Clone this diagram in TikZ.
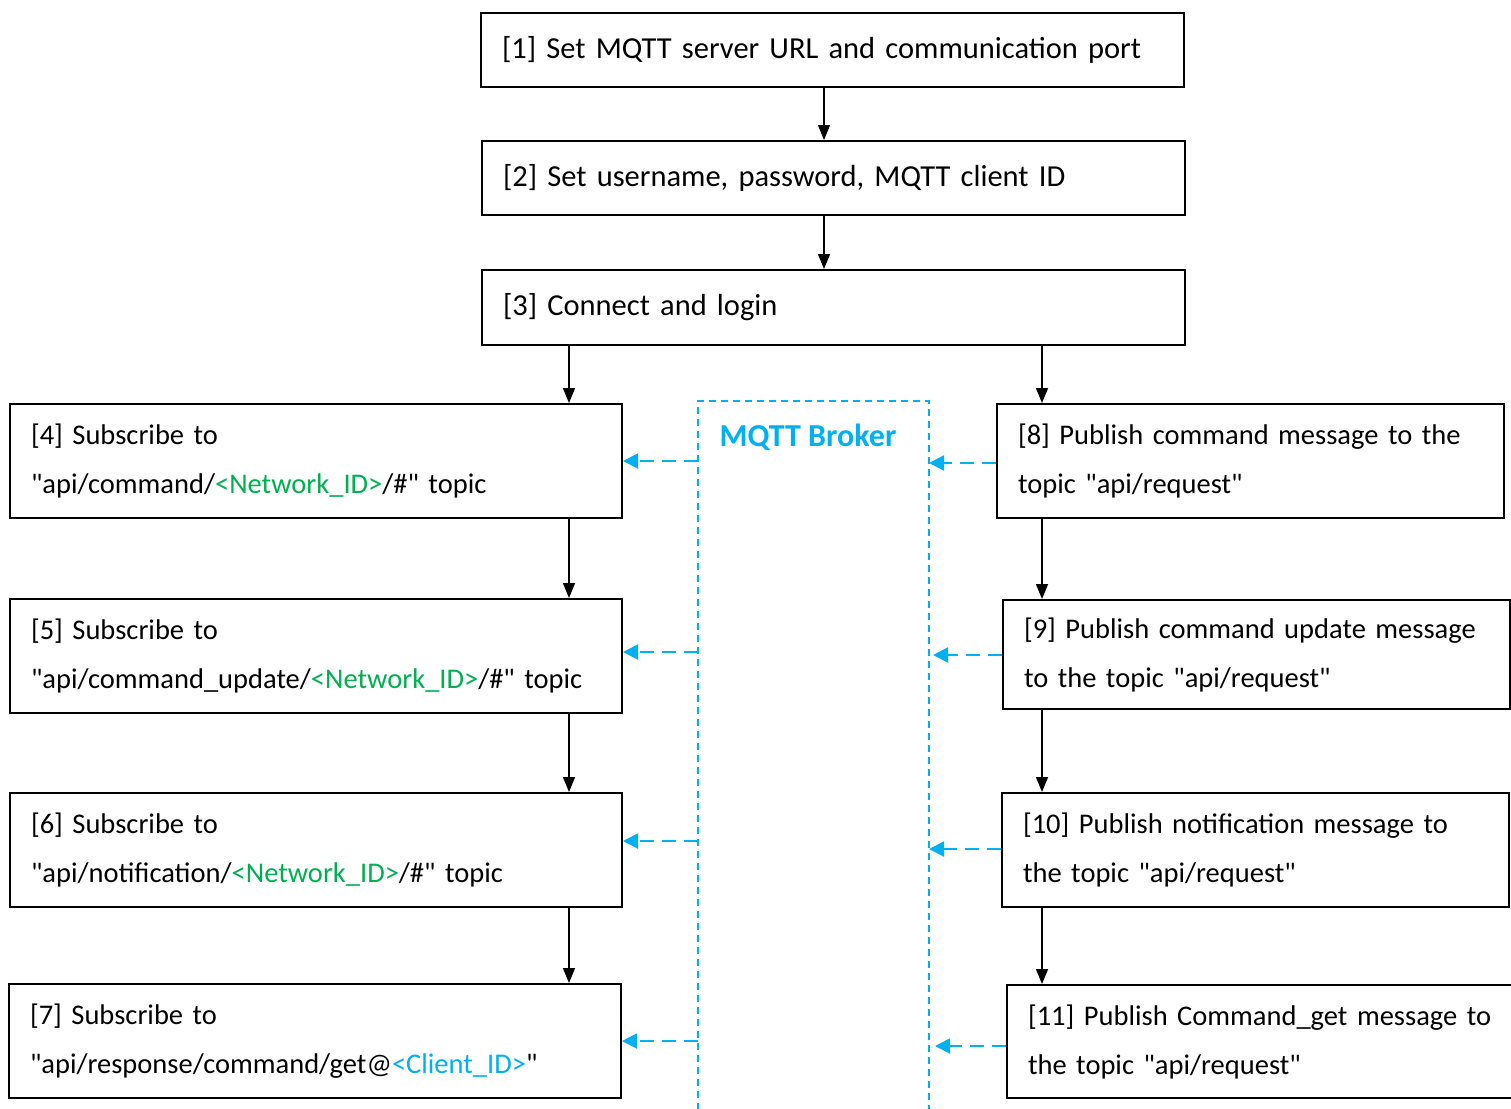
\documentclass[tikz,border=0pt]{standalone}
\usepackage{fontspec}
\setmainfont{Carlito}[Ligatures=TeXOff]
\usetikzlibrary{arrows.meta}
\definecolor{brokercyan}{HTML}{00B0F0}
\definecolor{idgreen}{HTML}{00B050}
\begin{document}
\begin{tikzpicture}[x=1bp,y=-1bp,
  box/.style={draw=black, line width=2bp, rectangle, align=left, inner ysep=0bp,
    font=\fontsize{28.5bp}{49bp}\selectfont, anchor=north west},
  topbox/.style={box, font=\fontsize{30.5bp}{49bp}\selectfont},
  arr/.style={draw=black, line width=1.5bp, -{Triangle[length=15bp,width=12bp]}},
  carr/.style={draw=brokercyan, line width=2bp, dash pattern=on 14bp off 8bp,
    -{Triangle[length=15bp,width=15bp]}},
  brokerline/.style={draw=brokercyan, line width=1.6bp, dash pattern=on 7bp off 5bp}]
\path[use as bounding box] (0,0) rectangle (1511,1108);
\coordinate (xT) at (824,0);
\coordinate (xL) at (569,0);
\coordinate (xR) at (1042,0);
\coordinate (bL) at (698,0);
\coordinate (bR) at (929,0);
% top boxes
\node[topbox, minimum width=703bp, minimum height=74bp, text width=661bp, inner xsep=21bp] (b1) at (480,12)
  {[1] Set MQTT server URL and communication port};
\node[topbox, minimum width=703bp, minimum height=74bp, text width=661bp, inner xsep=21bp] (b2) at (481,140)
  {[2] Set username, password, MQTT client ID};
\node[topbox, minimum width=703bp, minimum height=75bp, text width=661bp, inner xsep=21bp] (b3) at (481,269)
  {[3] Connect and login};
% left column
\node[box, minimum width=612bp, minimum height=114bp, text width=570bp, inner xsep=21bp] (b4) at (9,403)
  {[4] Subscribe to\\"api/command/\textcolor{idgreen}{<Network\_ID>}/\#" topic};
\node[box, minimum width=612bp, minimum height=114bp, text width=570bp, inner xsep=21bp] (b5) at (9,598)
  {[5] Subscribe to\\"api/command\_update/\textcolor{idgreen}{<Network\_ID>}/\#" topic};
\node[box, minimum width=612bp, minimum height=114bp, text width=570bp, inner xsep=21bp] (b6) at (9,792)
  {[6] Subscribe to\\"api/notification/\textcolor{idgreen}{<Network\_ID>}/\#" topic};
\node[box, minimum width=612bp, minimum height=114bp, text width=570bp, inner xsep=21bp] (b7) at (8,983)
  {[7] Subscribe to\\"api/response/command/get@\textcolor{brokercyan}{<Client\_ID>}"};
% right column
\node[box, minimum width=507bp, minimum height=114bp, text width=465bp, inner xsep=21bp] (b8) at (996,403)
  {[8] Publish command message to the\\topic "api/request"};
\node[box, minimum width=507bp, minimum height=109bp, text width=465bp, inner xsep=21bp] (b9) at (1002,599)
  {[9] Publish command update message\\to the topic "api/request"};
\node[box, minimum width=507bp, minimum height=114bp, text width=465bp, inner xsep=21bp] (b10) at (1001,792)
  {[10] Publish notification message to\\the topic "api/request"};
\node[box, minimum width=512bp, minimum height=113bp, text width=470bp, inner xsep=21bp] (b11) at (1006,984)
  {[11] Publish Command\_get message to\\the topic "api/request"};
% broker
\draw[brokerline] (698,1110) -- (698,401) -- (929,401) -- (929,1110);
\node[text=brokercyan, font=\fontsize{32bp}{34bp}\selectfont\bfseries] (broker) at (808,437) {MQTT Broker};
% black arrows
\draw[arr] (b1.south -| xT) -- (b2.north -| xT);
\draw[arr] (b2.south -| xT) -- (b3.north -| xT);
\draw[arr] (b3.south -| xL) -- (b4.north -| xL);
\draw[arr] (b3.south -| xR) -- (b8.north -| xR);
\draw[arr] (b4.south -| xL) -- (b5.north -| xL);
\draw[arr] (b5.south -| xL) -- (b6.north -| xL);
\draw[arr] (b6.south -| xL) -- (b7.north -| xL);
\draw[arr] (b8.south -| xR) -- (b9.north -| xR);
\draw[arr] (b9.south -| xR) -- (b10.north -| xR);
\draw[arr] (b10.south -| xR) -- (b11.north -| xR);
% dashed cyan arrows
\draw[carr] (bL |- 0,461) -- (b4.east |- 0,461);
\draw[carr] (bL |- 0,652) -- (b5.east |- 0,652);
\draw[carr] (bL |- 0,841) -- (b6.east |- 0,841);
\draw[carr] (bL |- 0,1041) -- (b7.east |- 0,1041);
\draw[carr] (b8.west |- 0,463) -- (bR |- 0,463);
\draw[carr] (b9.west |- 0,655) -- ([xshift=4bp]bR |- 0,655);
\draw[carr] (b10.west |- 0,849) -- (bR |- 0,849);
\draw[carr] (b11.west |- 0,1046) -- ([xshift=6bp]bR |- 0,1046);
\end{tikzpicture}
\end{document}
